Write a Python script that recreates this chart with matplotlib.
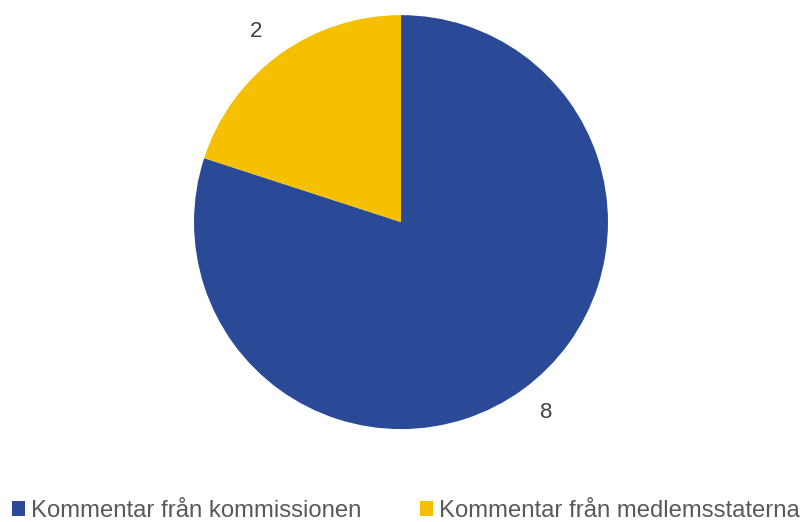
import matplotlib.pyplot as plt
from matplotlib.patches import Patch

plt.rcParams['font.family'] = ['Liberation Sans', 'DejaVu Sans']

# data
categories = ['Kommentar från kommissionen', 'Kommentar från medlemsstaterna']
values = [8, 2]
colors = ['#2A4A98', '#F4C000']

fig = plt.figure(figsize=(8, 5.22), dpi=100)
ax = fig.add_axes([0.2425, 0.178, 0.5175, 0.793])

wedges, texts = ax.pie(values, colors=colors, startangle=90, counterclock=False,
                       labels=[str(v) for v in values], labeldistance=1.14,
                       textprops={'fontsize': 16, 'color': '#404040'})
ax.set_aspect('equal')
ax.set_xlim(-1, 1)
ax.set_ylim(-1, 1)

handles = [Patch(facecolor=c, edgecolor='none') for c in colors]
fig.legend(handles, categories, loc='lower left', bbox_to_anchor=(0.003, -0.018),
           ncol=2, frameon=False, fontsize=17.2, labelcolor='#595959',
           handlelength=0.55, handleheight=0.55, handletextpad=0.25,
           columnspacing=2.45, borderaxespad=0)

fig.savefig('out.png', dpi=100)
